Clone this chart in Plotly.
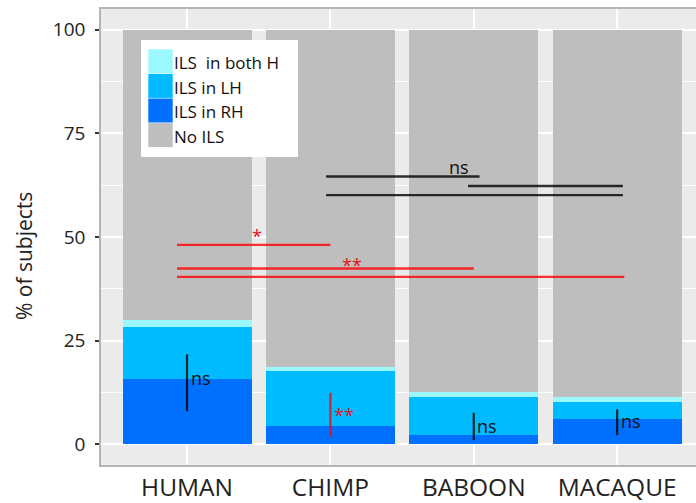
import plotly.graph_objects as go

# ---- data ----
categories = ["HUMAN", "CHIMP", "BABOON", "MACAQUE"]
ils_rh = [15.7, 4.4, 2.2, 6.0]
ils_lh = [12.6, 13.3, 9.2, 4.1]
ils_both = [1.7, 1.0, 1.1, 1.2]
no_ils = [100 - a - b - c for a, b, c in zip(ils_rh, ils_lh, ils_both)]

series_names = ["ILS in RH", "ILS in LH", "ILS  in both H", "No ILS"]
series_colors = ["#0070FF", "#00BBFF", "#9CF8FF", "#BEBEBE"]

# within-species (LH vs RH) tests: category index, y0, y1, label, label y
within_idx = [0, 1, 2, 3]
within_y0 = [8.0, 1.8, 1.0, 2.2]
within_y1 = [21.7, 12.4, 7.6, 8.4]
within_lbl = ["ns", "**", "ns", "ns"]
within_lbl_y = [16.0, 7.0, 4.5, 5.6]
within_red = [False, True, False, False]

# between-species tests: x0, x1 (category index), y, colour group
between_x0 = [-0.07, -0.07, -0.07, 0.97, 1.96, 0.97]
between_x1 = [1.0, 2.0, 3.05, 2.04, 3.04, 3.04]
between_y = [48.1, 42.4, 40.4, 64.6, 62.3, 60.1]
between_red = [True, True, True, False, False, False]
between_lbl = [("*", 0.49, 50.3), ("**", 1.15, 43.2), ("ns", 1.9, 66.8)]

RED = "rgba(255,0,0,0.8)"
BLACK = "rgba(0,0,0,0.8)"

fig = go.Figure()
series_vals = [ils_rh, ils_lh, ils_both, no_ils]
for name, vals, col in zip(series_names, series_vals, series_colors):
    fig.add_trace(go.Bar(x=categories, y=vals, name=name, marker_color=col,
                         marker_line_width=0, width=0.9, showlegend=False))

shapes = []
annotations = []
for i, y0, y1, lbl, ly, red in zip(within_idx, within_y0, within_y1, within_lbl,
                                   within_lbl_y, within_red):
    c = RED if red else BLACK
    shapes.append(dict(type="line", xref="x", yref="y", x0=i, x1=i, y0=y0, y1=y1,
                       line=dict(color=c, width=2.2)))
    annotations.append(dict(x=i + 0.012, y=ly, xref="x", yref="y", text=lbl,
                            showarrow=False, xanchor="left", yanchor="middle",
                            font=dict(size=18, color=("#E0102A" if red else "#111"))))
for x0, x1, y, red in zip(between_x0, between_x1, between_y, between_red):
    shapes.append(dict(type="line", xref="x", yref="y", x0=x0, x1=x1, y0=y, y1=y,
                       line=dict(color=RED if red else BLACK, width=2.3)))
for lbl, x, y in between_lbl:
    annotations.append(dict(x=x, y=y, xref="x", yref="y", text=lbl, showarrow=False,
                            font=dict(size=18, color=("#E81020" if "*" in lbl else "#111"))))

# ---- manual legend (pixel placement helpers) ----
L, R, T, B = 101, 696, 9, 465
def px(x):
    return (x - L) / (R - L)
def py(y):
    return (B - y) / (B - T)

shapes.append(dict(type="rect", xref="paper", yref="paper", x0=px(141), x1=px(298),
                   y0=py(157), y1=py(40), fillcolor="white", line=dict(width=0)))
legend_order = [2, 1, 0, 3]
for row, k in enumerate(legend_order):
    top = 49.3 + 24.6 * row
    shapes.append(dict(type="rect", xref="paper", yref="paper", x0=px(148.3), x1=px(172.7),
                       y0=py(top + 24.0), y1=py(top), fillcolor=series_colors[k],
                       line=dict(width=0)))
    annotations.append(dict(xref="paper", yref="paper", x=px(172), y=py(top + 13.5),
                            text=series_names[k], showarrow=False, xanchor="left",
                            yanchor="middle", font=dict(size=17, color="#111")))

# y-axis title
annotations.append(dict(xref="paper", yref="paper", x=px(24), y=py(256), text="% of subjects",
                        textangle=-90, showarrow=False, xanchor="center", yanchor="middle",
                        font=dict(size=21, color="#222")))

fig.update_layout(
    width=696, height=503,
    margin=dict(l=101, r=0, t=9, b=38, autoexpand=False),
    barmode="stack", bargap=0.1,
    paper_bgcolor="white", plot_bgcolor="#EBEBEB",
    font=dict(family="Open Sans", color="#222"),
    shapes=shapes, annotations=annotations,
    xaxis=dict(range=[-0.6, 3.55], showgrid=True, gridcolor="white", gridwidth=1.5,
               tickfont=dict(size=24.5, color="#222"), ticks="", showline=True,
               linecolor="#B5B5B5", linewidth=1.5, mirror=True, ticklabelstandoff=0,
               automargin=False),
    yaxis=dict(range=[-5, 105], tickvals=[0, 25, 50, 75, 100], showgrid=True,
               gridcolor="white", gridwidth=1.5, zeroline=False,
               minor=dict(tickvals=[12.5, 37.5, 62.5, 87.5], showgrid=True,
                          gridcolor="white", gridwidth=0.7),
               ticks="outside", ticklen=4, tickwidth=1.5, tickcolor="#333",
               tickfont=dict(size=19, color="#222"), ticklabelstandoff=6,
               showline=True, linecolor="#B5B5B5", linewidth=1.5, mirror=True,
               automargin=False),
)

fig.write_html("out.html", config={"displayModeBar": False},
               post_script="document.body.style.margin='0px';")
